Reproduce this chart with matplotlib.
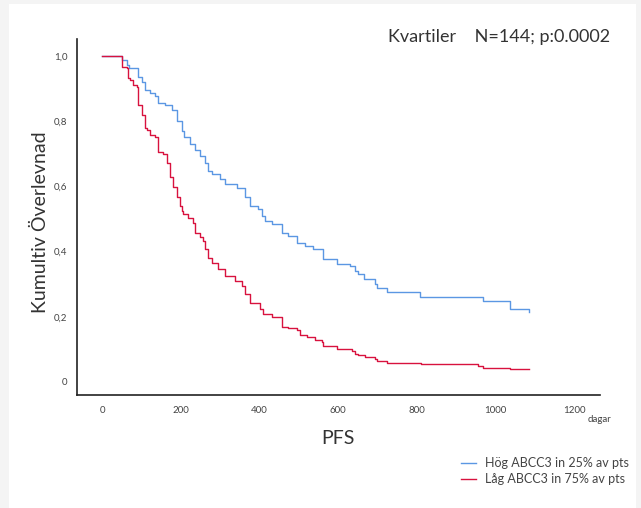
import matplotlib
matplotlib.use("Agg")
from matplotlib import pyplot as plt
from matplotlib.patches import Rectangle

# Kaplan-Meier steps (days, cumulative survival)
hog_t = [0, 51, 64, 69, 92, 102, 109, 122, 135, 142, 160, 178, 191, 203, 208, 224,
         236, 249, 262, 270, 280, 300, 313, 343, 364, 376, 397, 407, 414, 432, 458,
         473, 496, 516, 536, 562, 598, 631, 643, 651, 666, 694, 699, 725, 809, 969,
         1037, 1086]
hog_s = [1.0, 0.988, 0.972, 0.963, 0.935, 0.920, 0.895, 0.886, 0.877, 0.855, 0.849,
         0.833, 0.802, 0.769, 0.750, 0.731, 0.710, 0.694, 0.673, 0.648, 0.639, 0.623,
         0.608, 0.596, 0.568, 0.540, 0.531, 0.509, 0.494, 0.485, 0.457, 0.448, 0.426,
         0.417, 0.407, 0.377, 0.361, 0.355, 0.340, 0.330, 0.315, 0.299, 0.287, 0.275,
         0.262, 0.247, 0.225, 0.216]

lag_t = [0, 51, 64, 66, 72, 80, 88, 92, 102, 109, 115, 122, 135, 142, 155, 165, 173,
         180, 190, 198, 203, 206, 218, 231, 236, 250, 257, 262, 270, 280, 295, 313,
         338, 356, 364, 376, 402, 409, 432, 458, 473, 496, 503, 521, 542, 559, 562,
         598, 636, 643, 652, 669, 694, 699, 725, 811, 956, 969, 1037, 1086]
lag_s = [1.0, 0.967, 0.962, 0.932, 0.926, 0.910, 0.904, 0.849, 0.818, 0.778, 0.772,
         0.756, 0.750, 0.704, 0.700, 0.673, 0.630, 0.598, 0.567, 0.540, 0.525, 0.515,
         0.503, 0.488, 0.457, 0.445, 0.432, 0.407, 0.380, 0.364, 0.346, 0.324, 0.309,
         0.293, 0.269, 0.241, 0.225, 0.207, 0.200, 0.170, 0.164, 0.160, 0.145, 0.139,
         0.130, 0.123, 0.111, 0.102, 0.096, 0.086, 0.083, 0.077, 0.071, 0.065, 0.059,
         0.056, 0.049, 0.043, 0.040, 0.040]

x_ticks = [0, 200, 400, 600, 800, 1000, 1200]
y_ticks = [0, 0.2, 0.4, 0.6, 0.8, 1.0]
y_ticklabels = ["0", "0,2", "0,4", "0,6", "0,8", "1,0"]
labels = ["Hög ABCC3 in 25% av pts", "Låg ABCC3 in 75% av pts"]

plt.rcParams['font.family'] = ['Lato', 'DejaVu Sans']

fig = plt.figure(figsize=(6.41, 5.08), dpi=100)
fig.patch.set_facecolor('#f4f4f4')
# white panel inside the grey frame
fig.patches.append(Rectangle((9/641, 0), 627/641, 504/508, transform=fig.transFigure,
                             facecolor='white', edgecolor='none', zorder=-5))

ax = fig.add_axes([77/641, 113/508, 523/641, 356/508])
ax.set_zorder(2)
ax.patch.set_alpha(0)
h1, = ax.step(hog_t, hog_s, where='post', color='#5b97e3', lw=1.0, label=labels[0])
h2, = ax.step(lag_t, lag_s, where='post', color='#d8123e', lw=1.0, label=labels[1])

ax.set_xlim(-63.6, 1266)
ax.set_ylim(-0.040, 1.052)
ax.set_xticks(x_ticks)
ax.set_yticks(y_ticks)
ax.set_yticklabels(y_ticklabels)
ax.tick_params(length=0, labelsize=7, colors='#444444')
ax.tick_params(axis='x', pad=8)
ax.tick_params(axis='y', pad=7)
for side in ['top', 'right']:
    ax.spines[side].set_visible(False)
for side in ['left', 'bottom']:
    ax.spines[side].set_color('#222222')
    ax.spines[side].set_linewidth(1.2)

fig.text(40/641, 1 - 222/508, "Kumultiv Överlevnad", rotation=90, fontsize=14,
         ha='center', va='center', color='#333333')
fig.text(338/641, 1 - 438/508, "PFS", fontsize=14, ha='center', va='center', color='#333333')
fig.text(600/641, 1 - 419/508, "dagar", fontsize=7, ha='center', va='center', color='#444444')
fig.text(499/641, 1 - 37/508, "Kvartiler    N=144; p:0.0002", fontsize=13,
         ha='center', va='center', color='#333333')

fig.legend(handles=[h1, h2], labels=labels, loc='upper left',
           bbox_to_anchor=(450/641, 1 - 446/508), frameon=False, fontsize=9,
           handlelength=1.2, handletextpad=0.7, labelspacing=0.3, labelcolor='#444444')

fig.savefig("out.png", dpi=100, facecolor=fig.get_facecolor())
